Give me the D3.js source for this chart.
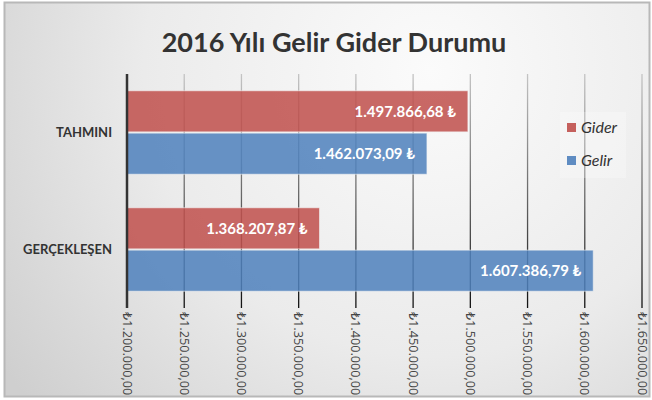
<html>
<head>
<meta charset="utf-8">
<script src="https://cdn.jsdelivr.net/npm/d3@7"></script>
<style>
  body { margin: 0; background: #fff; }
  text { font-family: Lato, "DejaVu Sans", sans-serif; }
</style>
</head>
<body>
<svg id="chart"></svg>
<script>
// values
var categories = ["TAHMINI", "GERÇEKLEŞEN"];
var seriesNames = ["Gider", "Gelir"];
var giderValues = [1497866.68, 1368207.87];
var gelirValues = [1462073.09, 1607386.79];
var tickValues = [1200000, 1250000, 1300000, 1350000, 1400000, 1450000, 1500000, 1550000, 1600000, 1650000];
var colors = {Gider: "#c0504d", Gelir: "#4f81bd"};

var width = 652, height = 400;
var svg = d3.select("#chart").attr("width", width).attr("height", height);
var defs = svg.append("defs");

var bg = defs.append("radialGradient").attr("id", "bg")
    .attr("gradientUnits", "userSpaceOnUse")
    .attr("cx", 430).attr("cy", 70).attr("r", 520);
bg.append("stop").attr("offset", "0").attr("stop-color", "#fbfbfb");
bg.append("stop").attr("offset", "0.55").attr("stop-color", "#ebebeb");
bg.append("stop").attr("offset", "1").attr("stop-color", "#cfcfcf");

var gridGrad = defs.append("linearGradient").attr("id", "gridGrad")
    .attr("gradientUnits", "userSpaceOnUse")
    .attr("x1", 0).attr("x2", 0).attr("y1", 74).attr("y2", 308);
gridGrad.append("stop").attr("offset", "0").attr("stop-color", "#c4c4c4");
gridGrad.append("stop").attr("offset", "1").attr("stop-color", "#111");

svg.append("rect")
    .attr("x", 4.5).attr("y", 2.5).attr("width", 645).attr("height", 394)
    .attr("fill", "url(#bg)")
    .attr("stroke", "#b8b8b8").attr("stroke-width", 2);

svg.append("text")
    .attr("x", 334).attr("y", 52)
    .attr("text-anchor", "middle")
    .attr("font-size", 27).attr("font-weight", "bold")
    .attr("fill", "#333")
    .text("2016 Yılı Gelir Gider Durumu");

var x = d3.scaleLinear().domain([1200000, 1650000]).range([127, 642]);
var y = d3.scaleBand().domain(categories).range([74, 308])
    .paddingInner(0.265).paddingOuter(0.1325);
var ySub = d3.scaleBand().domain(seriesNames).range([0, y.bandwidth()]).padding(0.03);

// grid lines
svg.append("g").selectAll("line")
    .data(tickValues.slice(1))
    .enter()
    .append("line")
    .attr("x1", d => x(d)).attr("x2", d => x(d))
    .attr("y1", 74).attr("y2", 308)
    .attr("stroke", "url(#gridGrad)")
    .attr("stroke-width", 1.3);

var rows = [];
categories.forEach(function(c, i){
    rows.push({cat: c, series: "Gider", value: giderValues[i]});
    rows.push({cat: c, series: "Gelir", value: gelirValues[i]});
});

svg.append("g").selectAll("rect")
    .data(rows)
    .enter()
    .append("rect")
    .attr("x", x(1200000))
    .attr("y", d => y(d.cat) + ySub(d.series))
    .attr("width", d => x(d.value) - x(1200000))
    .attr("height", ySub.bandwidth())
    .attr("fill", d => colors[d.series])
    .attr("fill-opacity", 0.86)
    .attr("stroke", "#f4f4f4").attr("stroke-opacity", 0.6).attr("stroke-width", 1);

var fmt = d3.formatLocale({decimal: ",", thousands: ".", grouping: [3], currency: ["₺", ""]});
var fmtVal = fmt.format(",.2f");

svg.append("g").selectAll("text")
    .data(rows)
    .enter()
    .append("text")
    .attr("x", d => x(d.value) - 12)
    .attr("y", d => y(d.cat) + ySub(d.series) + ySub.bandwidth() / 2)
    .attr("dy", "0.35em")
    .attr("text-anchor", "end")
    .attr("font-size", 15).attr("font-weight", "bold")
    .attr("fill", "#fff")
    .text(d => fmtVal(d.value) + " ₺");

// value axis line
svg.append("line")
    .attr("x1", x(1200000)).attr("x2", x(1200000))
    .attr("y1", 74).attr("y2", 308)
    .attr("stroke", "#333").attr("stroke-width", 2.5);

// category labels
svg.append("g").selectAll("text")
    .data(categories)
    .enter()
    .append("text")
    .attr("x", 112)
    .attr("y", d => y(d) + y.bandwidth() / 2)
    .attr("dy", "0.35em")
    .attr("text-anchor", "end")
    .attr("font-size", 13).attr("font-weight", "bold")
    .attr("fill", "#333")
    .text(d => d);

// tick labels, rotated
svg.append("g").selectAll("text")
    .data(tickValues)
    .enter()
    .append("text")
    .attr("transform", d => "translate(" + x(d) + ",312) rotate(90)")
    .attr("dy", "0.35em")
    .style("font-size", "12.7px")
    .style("font-family", "'Open Sans', 'DejaVu Sans', sans-serif")
    .attr("fill", "#444")
    .text(d => "₺" + fmtVal(d));

// legend
var legend = svg.append("g");
legend.append("rect")
    .attr("x", 560).attr("y", 112).attr("width", 66).attr("height", 66)
    .attr("fill", "#fff").attr("fill-opacity", 0.25);
legend.selectAll("g")
    .data(seriesNames)
    .enter()
    .append("g")
    .each(function(d, i){
        var g = d3.select(this);
        g.append("rect")
            .attr("x", 567).attr("y", 123 + i * 33)
            .attr("width", 9).attr("height", 9)
            .attr("fill", colors[d]).attr("fill-opacity", 0.9);
        g.append("text")
            .attr("x", 581).attr("y", 127.5 + i * 33)
            .attr("dy", "0.35em")
            .attr("font-size", 16).attr("font-style", "italic")
            .attr("fill", "#333")
            .text(d);
    });
</script>
</body>
</html>
